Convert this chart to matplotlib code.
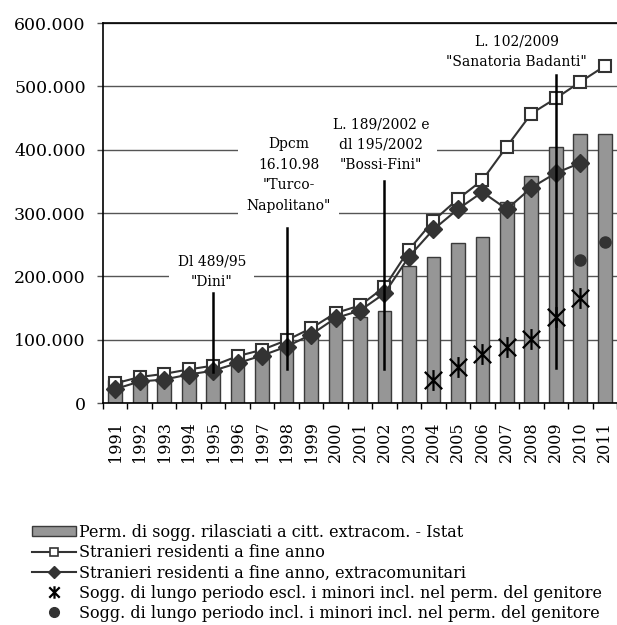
import numpy as np
import matplotlib
matplotlib.use("Agg")
import matplotlib.pyplot as plt
from matplotlib.patches import Patch
from matplotlib.lines import Line2D
from matplotlib.path import Path
from matplotlib.ticker import FuncFormatter, FixedLocator

plt.rcParams['font.family'] = ['DejaVu Serif']

years = [str(y) for y in range(1991, 2012)]
nan = np.nan

# values in thousands
permessi = [36, 40, 43, 48, 55, 70, 80, 90, 110, 139, 136, 145, 217, 230,
            252, 262, 318, 359, 404, 425, 425]
residenti = [31, 41, 46, 53, 59, 74, 84, 99, 118, 142, 154, 183, 242, 288,
             322, 352, 405, 457, 481, 507, 532]
extracom = [22, 34, 37, 45, 51, 63, 75, 89, 108, 134, 146, 173, 231, 274,
            306, 333, 306, 340, 363, 379, nan]
lungo_escl = [nan] * 13 + [36, 57, 78, 88, 101, 136, 166, nan]
lungo_incl = [nan] * 19 + [226, 254]

permessi = np.array(permessi) * 1000
residenti = np.array(residenti) * 1000
extracom = np.array(extracom) * 1000
lungo_escl = np.array(lungo_escl) * 1000
lungo_incl = np.array(lungo_incl) * 1000

# norms: (year, text, line top, line bottom, text x shift, text y)
norme = [
    ("1995", 'Dl 489/95\n"Dini"', 174000, 49000, -0.05, 207000),
    ("1998", 'Dpcm\n16.10.98\n"Turco-\nNapolitano"', 277000, 54000, 0.09, 360000),
    ("2002", 'L. 189/2002 e\ndl 195/2002\n"Bossi-Fini"', 350000, 54000, -0.15, 408000),
    ("2009", 'L. 102/2009\n"Sanatoria Badanti"', 518000, 56000, -1.6, 554000),
]

# asterisk marker: X with a vertical bar
star = Path([(-1, -1), (1, 1), (-1, 1), (1, -1), (0, -1.2), (0, 1.2)],
            [Path.MOVETO, Path.LINETO] * 3)

dark = '#333333'
fig = plt.figure(figsize=(6.17, 6.25), dpi=100)
ax = fig.add_axes([103 / 617, 1 - 403 / 625, 514 / 617, 380 / 625])

x = np.arange(len(years))
ax.bar(x, permessi, width=0.56, color='#969696', edgecolor='#3a3a3a',
       linewidth=1, zorder=2)
ax.plot(x, residenti, color=dark, lw=1.5, marker='s', ms=8,
        mfc='white', mec=dark, mew=1.5, zorder=5)
ax.plot(x, extracom, color=dark, lw=1.5, marker='D', ms=9,
        mfc=dark, mec=dark, zorder=6)
ax.plot(x, lungo_escl, ls='none', marker=star, ms=15, mec='black',
        mew=1.6, zorder=6)
ax.plot(x, lungo_incl, ls='none', marker='o', ms=8, color=dark, zorder=6)

for year, txt, y0, y1, dx, ty in norme:
    i = years.index(year)
    ax.plot([i, i], [y1, y0], color='black', lw=1.8, zorder=8)
    ax.text(i + dx, ty, txt, ha='center', va='center', fontsize=10,
            linespacing=1.6, zorder=4,
            bbox=dict(boxstyle='square,pad=0.6', fc='white', ec='none'))

ax.set_xlim(-0.5, len(years) - 0.5)
ax.set_ylim(0, 600000)
ax.set_yticks(np.arange(0, 600001, 100000))
ax.yaxis.set_major_formatter(FuncFormatter(
    lambda v, p: f"{v:,.0f}".replace(",", ".")))
ax.grid(axis='y', color='#555555', lw=1, zorder=0)
ax.set_axisbelow(True)

ax.set_xticks(x)
ax.set_xticklabels(years, rotation=90, fontsize=11.5)
ax.xaxis.set_minor_locator(FixedLocator(np.arange(-0.5, len(years), 1)))
ax.tick_params(axis='x', which='major', length=0, pad=13)
ax.tick_params(axis='x', which='minor', length=4.5, width=1, color='black')
ax.tick_params(axis='y', length=4.5, width=1, color='#555555', pad=8,
               labelsize=12.5)

for s in ['left', 'top', 'bottom']:
    ax.spines[s].set_color('black')
    ax.spines[s].set_linewidth(1.2)
ax.spines['right'].set_visible(False)

handles = [
    Patch(facecolor='#969696', edgecolor='#3a3a3a', linewidth=1),
    Line2D([], [], color=dark, lw=1.5, marker='s', ms=6, mfc='white',
           mec=dark, mew=1.2),
    Line2D([], [], color=dark, lw=1.5, marker='D', ms=6, mfc=dark, mec=dark),
    Line2D([], [], ls='none', marker=star, ms=9, mec='black', mew=1.6),
    Line2D([], [], ls='none', marker='o', ms=7, color=dark),
]
labels = [
    "Perm. di sogg. rilasciati a citt. extracom. - Istat",
    "Stranieri residenti a fine anno",
    "Stranieri residenti a fine anno, extracomunitari",
    "Sogg. di lungo periodo escl. i minori incl. nel perm. del genitore",
    "Sogg. di lungo periodo incl. i minori incl. nel perm. del genitore",
]
fig.legend(handles, labels, loc='upper left',
           bbox_to_anchor=(32 / 617, 1 - 524 / 625), frameon=False,
           fontsize=11.5, handlelength=2.75, handletextpad=0.2,
           labelspacing=0.2, borderpad=0, borderaxespad=0, handleheight=0.6)

fig.savefig('out.png', dpi=100)
